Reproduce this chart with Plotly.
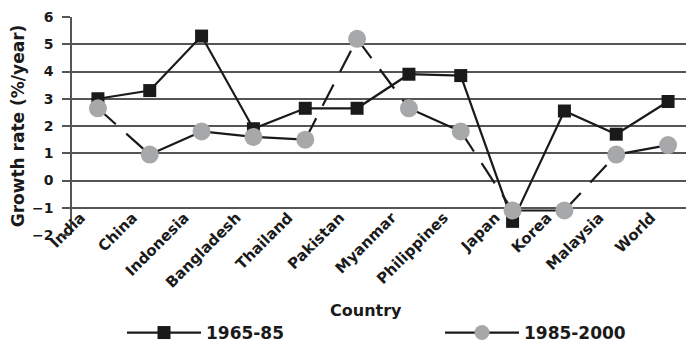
import plotly.graph_objects as go

countries = ["India", "China", "Indonesia", "Bangladesh", "Thailand", "Pakistan",
             "Myanmar", "Philippines", "Japan", "Korea", "Malaysia", "World"]
g1965_85 = [3.0, 3.3, 5.3, 1.9, 2.65, 2.65, 3.9, 3.85, -1.5, 2.55, 1.7, 2.9]
g1985_00 = [2.65, 0.95, 1.8, 1.6, 1.5, 5.2, 2.65, 1.8, -1.1, -1.1, 0.95, 1.3]
# segments (start index) of the 1985-2000 line drawn broken in the original
broken_from = [0, 4, 5, 7, 9]

FONT = "DejaVu Sans"
INK = "#1a1a1a"
W, H = 686, 335  # page body keeps an 8px margin inside the 694x343 window
fig = go.Figure()

# 1985-2000 line segments
for i in range(len(countries) - 1):
    dash = "24px,14px" if i in broken_from else "solid"
    fig.add_trace(go.Scatter(
        x=countries[i:i + 2], y=g1985_00[i:i + 2], mode="lines",
        line=dict(color=INK, width=2.2, dash=dash),
        showlegend=False, hoverinfo="skip"))

fig.add_trace(go.Scatter(
    x=countries, y=g1965_85, mode="lines+markers", name="1965-85",
    line=dict(color=INK, width=2.2),
    marker=dict(symbol="square", size=13, color=INK), legend="legend"))

fig.add_trace(go.Scatter(
    x=countries, y=g1985_00, mode="markers", name="1985-2000",
    marker=dict(symbol="circle", size=18, color="#a7a8aa"),
    showlegend=False))
# legend entry for 1985-2000 (line + marker)
fig.add_trace(go.Scatter(
    x=[None], y=[None], mode="lines+markers", name="1985-2000",
    line=dict(color=INK, width=2.2),
    marker=dict(symbol="circle", size=15, color="#a7a8aa"), legend="legend2"))

leg_common = dict(orientation="h", xref="container", yref="container",
                  xanchor="left", y=1 - 325 / H, yanchor="middle",
                  font=dict(family=FONT, size=17, color=INK, weight="bold"),
                  itemwidth=74, bgcolor="rgba(0,0,0,0)")

fig.update_layout(
    width=W, height=H,
    margin=dict(l=64, r=0, t=9, b=108),
    plot_bgcolor="white", paper_bgcolor="white",
    font=dict(family=FONT, color=INK, size=13),
    showlegend=True,
    legend=dict(x=114 / W, **leg_common),
    legend2=dict(x=432 / W, **leg_common),
    xaxis=dict(
        type="category", range=[-0.5, 11.5], tickangle=-45, automargin=False,
        tickfont=dict(family=FONT, size=15, weight="bold", color=INK),
        ticklabelshift=-17, ticklabelstandoff=-30,
        showgrid=False, showline=False, ticks="", zeroline=False),
    yaxis=dict(
        range=[-2, 6], dtick=1, tick0=0, automargin=False,
        tickfont=dict(family=FONT, size=14, weight="bold", color=INK),
        ticklabelstandoff=6,
        showgrid=True, gridcolor="#555555", gridwidth=1.5,
        showline=True, linecolor="#555555", linewidth=1.5,
        zeroline=False, ticks="outside", ticklen=8, tickcolor="#555555", tickwidth=1.5,
        title=dict(text="Growth rate (%/year)", font=dict(family=FONT, size=17, weight="bold", color=INK), standoff=17)),
    annotations=[dict(text="Country", xref="paper", yref="paper",
                      x=(358 - 64) / 622, y=-75 / 218, xanchor="center", yanchor="middle",
                      showarrow=False, font=dict(family=FONT, size=16, weight="bold", color=INK))],
)

fig.write_html("out.html")
